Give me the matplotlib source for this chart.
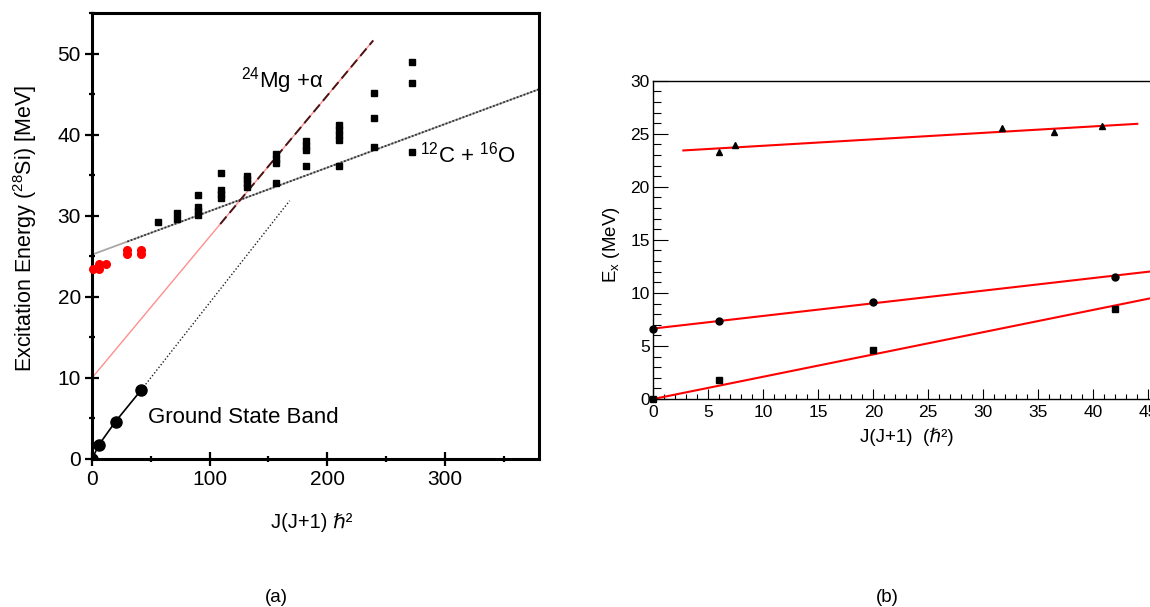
import numpy as np
import matplotlib
matplotlib.use('Agg')
import matplotlib.pyplot as plt
from matplotlib.ticker import MultipleLocator

plt.rcParams['font.family'] = ['Liberation Sans', 'DejaVu Sans']
plt.rcParams['mathtext.fontset'] = 'custom'
plt.rcParams['mathtext.rm'] = 'Liberation Sans'
plt.rcParams['mathtext.it'] = 'Liberation Sans:italic'
plt.rcParams['mathtext.bf'] = 'Liberation Sans:bold'

# ---------------- panel (a) data ----------------
gs_J = [0, 6, 20, 42]
gs_E = [0.0, 1.78, 4.62, 8.54]
gs_ext_J = [42, 168]
gs_ext_E = [8.54, 31.85]

red_J = [1, 6, 6, 12, 30, 30, 42, 42]
red_E = [23.4, 23.4, 24.0, 24.1, 25.3, 25.8, 25.3, 25.8]

sq_J = [56, 72, 72, 90, 90, 90, 90, 110, 110, 110, 110, 132, 132, 132, 132,
        156, 156, 156, 156, 182, 182, 182, 182, 210, 210, 210, 210, 210,
        240, 240, 240, 272, 272, 272]
sq_E = [29.2, 29.6, 30.3, 30.1, 30.6, 31.1, 32.6, 32.2, 32.7, 33.2, 35.3,
        33.6, 34.0, 34.5, 34.9, 34.0, 36.5, 37.0, 37.6, 36.1, 38.1, 38.6, 39.2,
        36.1, 39.35, 40.0, 40.6, 41.2, 38.45, 42.0, 45.15, 37.85, 46.4, 48.95]

co_line_J = [0, 380]
co_line_E = [25.2, 45.6]
co_dotted_from = 30

mg_line_J = [0, 239]
mg_line_E = [10.0, 51.6]
mg_dashed_from = 109

a_xticks = [0, 100, 200, 300]
a_yticks = [0, 10, 20, 30, 40, 50]

# ---------------- panel (b) data ----------------
tri_J = [6.0, 7.45, 31.7, 36.4, 40.8]
tri_E = [23.27, 23.9, 25.5, 25.2, 25.7]
cir_J = [0, 6, 20, 42]
cir_E = [6.64, 7.36, 9.12, 11.48]
sqb_J = [0, 6, 20, 42]
sqb_E = [0.0, 1.76, 4.6, 8.49]

# fits: (intercept, slope, J_start, J_end)
fit_tri = (23.26, 0.0608, 2.73, 44.0)
fit_cir = (6.64, 0.119, 0.0, 46.0)
fit_sq = (0.0, 0.21, 0.0, 46.0)

b_xticks = [0, 5, 10, 15, 20, 25, 30, 35, 40, 45]
b_yticks = [0, 5, 10, 15, 20, 25, 30]

W, H = 1150, 607
fig = plt.figure(figsize=(W / 100, H / 100), dpi=100)

# ---------------- panel (a) ----------------
axa = fig.add_axes([92 / W, 1 - 459 / H, (539 - 92) / W, (459 - 13) / H])
axa.set_xlim(0, 380)
axa.set_ylim(0, 55)

# 12C+16O line
axa.plot(co_line_J, co_line_E, color='#a8a8a8', lw=1.3, zorder=2)
jd = np.array([co_dotted_from, co_line_J[1]])
axa.plot(jd, np.interp(jd, co_line_J, co_line_E), color='#333333', lw=1.3,
         ls=(0, (1, 1)), zorder=2)

# 24Mg+alpha line
axa.plot(mg_line_J, mg_line_E, color='#ff8f8f', lw=1.0, zorder=2)
jm = np.array([mg_dashed_from, mg_line_J[1]])
axa.plot(jm, np.interp(jm, mg_line_J, mg_line_E), color='#4a1414', lw=1.4,
         ls=(0, (5, 2.5)), zorder=2)

# ground state band
axa.plot(gs_ext_J, gs_ext_E, color='#222222', lw=1.0, ls=(0, (1, 1.5)), zorder=2)
axa.plot(gs_J, gs_E, color='black', lw=1.2, marker='o', ms=8, zorder=3)

axa.plot(red_J, red_E, ls='none', marker='o', ms=5.5, color='#ff0000',
         mec='#ff0000', zorder=3, clip_on=False)
axa.plot(sq_J, sq_E, ls='none', marker='s', ms=4.4, color='black', zorder=3)

axa.text(127, 45.8, r'$^{24}$Mg +α', fontsize=16, ha='left', va='baseline')
axa.text(279, 36.6, r'$^{12}$C + $^{16}$O', fontsize=16, ha='left', va='baseline')
axa.text(47.8, 4.4, 'Ground State Band', fontsize=16, ha='left', va='baseline')

for s in axa.spines.values():
    s.set_linewidth(2.2)
axa.set_xticks(a_xticks)
axa.set_yticks(a_yticks)
axa.xaxis.set_minor_locator(MultipleLocator(50))
axa.yaxis.set_minor_locator(MultipleLocator(5))
axa.tick_params(which='major', direction='inout', length=10, width=1.6,
                labelsize=15, pad=3)
axa.tick_params(which='minor', direction='inout', length=5, width=1.6)
axa.tick_params(top=False, right=False, which='both')

fig.text(312 / W, 1 - 522 / H, 'J(J+1) ℏ²', fontsize=14.5,
         ha='center', va='center', family=['Liberation Sans', 'DejaVu Sans'])
fig.text(25 / W, 1 - 229 / H, r'Excitation Energy ($^{28}$Si) [MeV]',
         fontsize=15.5, rotation=90, ha='center', va='center')

# ---------------- panel (b) ----------------
x0 = 653.3
axb = fig.add_axes([x0 / W, 1 - 399 / H, (W - x0) / W, (399 - 80.7) / H])
xmax_b = (W - x0) / 11.0
axb.set_xlim(0, xmax_b)
axb.set_ylim(0, 30)

for (b0, b1, j0, j1) in (fit_tri, fit_cir, fit_sq):
    jj = np.array([j0, j1])
    axb.plot(jj, b0 + b1 * jj, color='#ff0000', lw=1.5, zorder=2)

axb.plot(tri_J, tri_E, ls='none', marker='^', ms=5, color='black', zorder=3,
         clip_on=False)
axb.plot(cir_J, cir_E, ls='none', marker='o', ms=5, color='black', zorder=3,
         clip_on=False)
axb.plot(sqb_J, sqb_E, ls='none', marker='s', ms=5, color='black', zorder=3,
         clip_on=False)

axb.spines['right'].set_visible(False)
for k in ('left', 'bottom', 'top'):
    axb.spines[k].set_linewidth(1.0)
axb.set_xticks(b_xticks)
axb.set_yticks(b_yticks)
axb.xaxis.set_minor_locator(MultipleLocator(1))
axb.yaxis.set_minor_locator(MultipleLocator(1))
axb.tick_params(axis='y', which='major', direction='in', length=11, width=0.8,
                labelsize=12.5, pad=2.5)
axb.tick_params(axis='y', which='minor', direction='in', length=5.5, width=0.8)
axb.tick_params(axis='x', which='major', direction='in', length=7, width=0.8,
                labelsize=12.5, pad=4)
axb.tick_params(axis='x', which='minor', direction='in', length=3.5, width=0.8)
axb.tick_params(top=False, right=False, which='both')

fig.text(907 / W, 1 - 437 / H, 'J(J+1)  (ℏ²)', fontsize=13.5,
         ha='center', va='center', family=['Liberation Sans', 'DejaVu Sans'])
fig.text(612 / W, 1 - 245 / H, r'E$_{\mathrm{x}}$ (MeV)', fontsize=13.5,
         rotation=90, ha='center', va='center')

fig.text(276 / W, 1 - 597 / H, '(a)', fontsize=13.5, ha='center', va='center')
fig.text(887 / W, 1 - 597 / H, '(b)', fontsize=13.5, ha='center', va='center')

fig.savefig('out.png', dpi=100)
